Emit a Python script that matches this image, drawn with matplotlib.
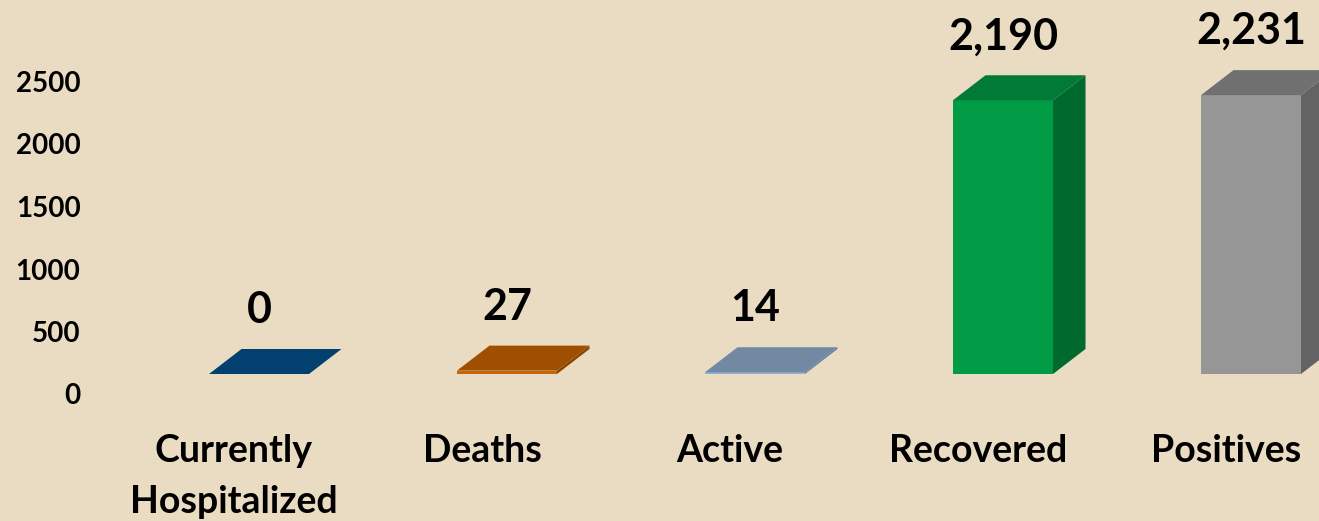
import matplotlib
matplotlib.use("Agg")
import matplotlib.pyplot as plt
from matplotlib.patches import Polygon, Rectangle

plt.rcParams['font.family'] = ['Lato', 'DejaVu Sans']
plt.rcParams['font.weight'] = 'bold'

# ---- data ----
categories = ["Currently\nHospitalized", "Deaths", "Active", "Recovered", "Positives"]
values = [0, 27, 14, 2190, 2231]
value_labels = ["0", "27", "14", "2,190", "2,231"]
yticks = [0, 500, 1000, 1500, 2000, 2500]

# ---- styles ----
front_colors = ["#1F5A8A", "#C8650A", "#94AFCB", "#009B45", "#969696"]
side_colors = ["#003560", "#8A4600", "#6580A0", "#006A2E", "#636363"]
top_colors = ["#02406F", "#9E5000", "#7189A2", "#007A36", "#707070"]
bg = "#EADCC3"

W_PX, H_PX, DPI = 1319, 521, 100
fig = plt.figure(figsize=(W_PX / DPI, H_PX / DPI), dpi=DPI, facecolor=bg)

left_px, bottom_px, top_px = 100, 147, 12
ax_w = (W_PX - left_px) / W_PX
ax_h = (H_PX - bottom_px - top_px) / H_PX
ax = fig.add_axes([left_px / W_PX, bottom_px / H_PX, ax_w, ax_h])
ax.set_facecolor(bg)
px_per_cat = 248.0
x0 = -159.0 / px_per_cat
x1 = x0 + (W_PX - left_px) / px_per_cat
ax.set_xlim(x0, x1)
ymax = (H_PX - bottom_px - top_px) / 0.125
ax.set_ylim(0, ymax)
ax.axis('off')

bar_w = 100.0 / px_per_cat
dx = 32.5 / px_per_cat      # depth in x (data units)
dy = 25.0 / 0.125           # depth in y (data units)
line_px = 51

for i, v in enumerate(values):
    xl, xr = i - bar_w / 2, i + bar_w / 2
    if v > 0:
        ax.add_patch(Rectangle((xl, 0), bar_w, v, facecolor=front_colors[i],
                               edgecolor='none', zorder=2))
        ax.add_patch(Polygon([(xr, 0), (xr + dx, dy), (xr + dx, v + dy), (xr, v)],
                             closed=True, facecolor=side_colors[i],
                             edgecolor='none', zorder=2))
    ax.add_patch(Polygon([(xl, v), (xr, v), (xr + dx, v + dy), (xl + dx, v + dy)],
                         closed=True, facecolor=top_colors[i],
                         edgecolor='none', zorder=3))
    ax.annotate(value_labels[i], xy=(i, v), xytext=(0, 64), textcoords='offset pixels',
                ha='center', va='center', fontsize=31, fontweight='bold',
                color='black', annotation_clip=False)
    n_lines = categories[i].count("\n") + 1
    ax.annotate(categories[i], xy=(i, 0),
                xytext=(-25, -88 - line_px * (n_lines - 1)), textcoords='offset pixels',
                ha='center', va='baseline', fontsize=27, fontweight='bold',
                color='black', linespacing=1.6, annotation_clip=False,
                multialignment='center')

# value axis (labels sit slightly below the bar floor, as in the reference)
tick_shift_px = 20
tax = fig.add_axes([left_px / W_PX, (bottom_px - tick_shift_px) / H_PX, ax_w, ax_h])
tax.set_ylim(0, ymax)
tax.set_xlim(x0, x1)
tax.patch.set_visible(False)
for s in tax.spines.values():
    s.set_visible(False)
tax.set_xticks([])
tax.set_yticks(yticks)
tax.set_yticklabels([str(t) for t in yticks])
tax.tick_params(axis='y', length=0, pad=14, labelsize=20)
for lab in tax.get_yticklabels():
    lab.set_fontweight('bold')

fig.savefig("out.png", dpi=DPI, facecolor=bg)
